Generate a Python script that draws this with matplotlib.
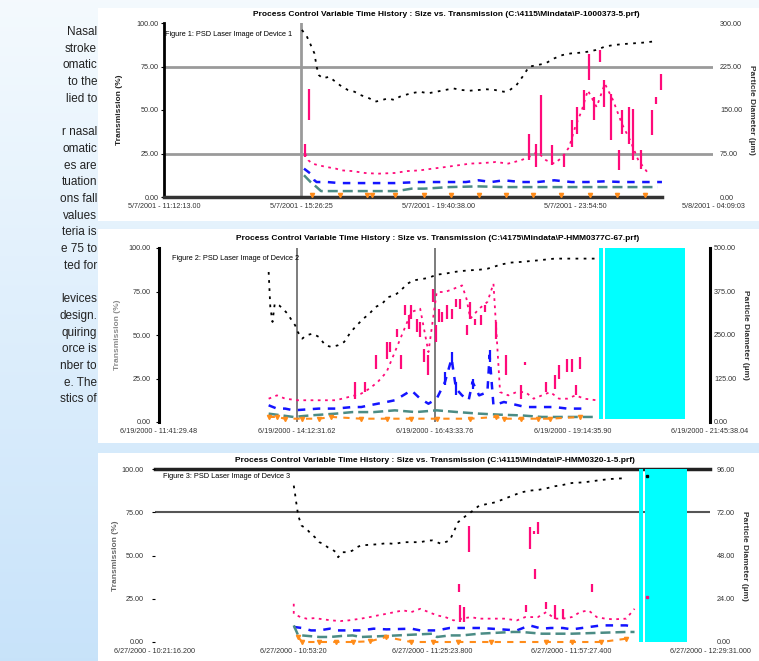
"""
"""
# ====================================================== Imports ===================================================== #

import matplotlib
matplotlib.use("Agg")
import matplotlib.pyplot as plt
import numpy as np
from matplotlib.patches import Rectangle

plt.rcParams['font.family'] = ['Liberation Sans', 'DejaVu Sans']

# ===================================================== Variables ==================================================== #

W, H = 759, 661

side_text = ["Nasal", "stroke", "omatic", "to the", "lied to", "",
             "r nasal", "omatic", "es are", "tuation", "ons fall", "values", "teria is", "e 75 to", "ted for", "",
             "levices", "design.", "quiring", "orce is", "nber to", "e. The", "stics of"]

tick_pct = [0, 25, 50, 75, 100]
left_labels = ['0.00', '25.00', '50.00', '75.00', '100.00']

# ---- figure 1
p1_title = 'Process Control Variable Time History : Size vs. Transmission (C:\\4115\\Mindata\\P-1000373-5.prf)'
p1_caption = 'Figure 1: PSD Laser Image of Device 1'
p1_xlabels = ['5/7/2001 - 11:12:13.00', '5/7/2001 - 15:26:25', '5/7/2001 - 19:40:38.00',
              '5/7/2001 - 23:54:50', '5/8/2001 - 04:09:03']
p1_right = ['0.00', '75.00', '150.00', '225.00', '300.00']

p1_size_x = [25.1, 25.9, 26.6, 27.4, 27.8, 28.2, 28.9, 30.1, 31.2, 32.4, 33.5, 34.7, 35.8, 37.4, 38.5, 39.7, 40.8,
             42.0, 42.9, 43.9, 45.0, 46.6, 48.1, 49.6, 51.2, 52.7, 54.2, 55.7, 57.3, 58.8, 60.3, 61.9, 63.0, 64.2,
             65.3, 66.5, 68.0, 69.5, 71.1, 72.6, 74.1, 75.7, 77.2, 78.7, 80.3, 81.8, 83.7, 87.2, 89.8]
p1_size_y = [96.0, 93.1, 88.3, 82.5, 74.9, 70.1, 68.2, 69.1, 66.3, 63.4, 61.5, 60.5, 58.6, 56.7, 54.8, 55.7, 56.7,
             55.7, 57.6, 58.6, 59.6, 60.5, 59.6, 60.5, 61.5, 62.4, 61.5, 61.1, 61.5, 61.9, 61.5, 60.5, 61.5, 64.3,
             69.1, 74.9, 75.8, 76.8, 79.7, 81.6, 82.5, 82.9, 83.5, 84.5, 86.4, 87.3, 87.9, 88.7, 89.6]

p1_trans_x = [25.7, 26.3, 27.0, 28.2, 29.7, 31.3, 32.4, 34.3, 36.6, 38.9, 42.0, 44.3, 46.6, 48.9, 51.2, 53.5, 55.8,
              58.1, 60.4, 62.7, 65.0, 66.5, 68.0, 69.6, 71.1, 72.6, 73.8, 74.9, 76.1, 77.2, 78.8, 80.3, 81.8, 83.4,
              84.9, 86.4, 88.0, 88.7]
p1_trans_y = [24.9, 21.1, 19.2, 18.2, 17.2, 16.3, 15.3, 14.9, 13.8, 13.4, 13.8, 14.9, 15.3, 16.3, 17.2, 18.2, 19.2,
              19.5, 20.1, 19.2, 21.1, 23.0, 25.9, 21.1, 19.2, 23.0, 28.7, 40.2, 49.8, 61.3, 51.7, 65.1, 55.6, 42.1,
              32.6, 21.1, 14.4, 13.4]
p1_spike_x = [25.7, 26.4, 66.5, 67.7, 68.7, 70.7, 72.8, 74.3, 75.3, 76.5, 77.5, 78.4, 79.4, 80.1, 81.5, 82.8, 83.5,
              84.7, 85.5, 86.8, 88.9, 89.7, 90.5]
p1_spike_lo = [23.0, 44.1, 21.1, 17.2, 24.9, 18.2, 17.2, 28.7, 36.4, 49.8, 67.0, 44.1, 77.6, 51.7, 32.6, 15.3, 36.4,
               30.7, 21.1, 16.3, 35.4, 53.6, 61.3]
p1_spike_hi = [30.6, 62.3, 36.4, 30.7, 58.4, 29.7, 24.9, 44.1, 51.7, 61.3, 82.4, 57.5, 84.3, 67.0, 59.4, 26.8, 49.8,
               51.7, 50.8, 26.8, 49.8, 57.5, 70.9]

p1_blue_x = [25.5, 26.7, 27.4, 27.8, 29.7, 32.0, 34.3, 37.4, 42.0, 46.6, 49.7, 52.0, 55.0, 57.3, 59.6, 61.9, 65.0,
             68.0, 71.1, 74.2, 77.2, 80.3, 83.4, 86.4, 90.7]
p1_blue_y = [16.3, 13.4, 9.6, 8.6, 8.6, 8.0, 8.0, 8.0, 8.0, 8.6, 8.6, 8.6, 8.6, 9.6, 8.6, 9.6, 8.6, 8.6, 9.6, 8.6,
             8.6, 9.0, 8.6, 8.6, 8.6]
p1_teal_x = [25.5, 26.7, 27.8, 28.6, 31.3, 34.3, 37.4, 40.5, 42.4, 45.1, 47.4, 52.0, 57.3, 61.9, 67.3, 72.6, 76.5,
             80.3, 83.4, 88.0, 89.9]
p1_teal_y = [12.5, 8.6, 5.7, 3.4, 3.4, 3.4, 3.4, 3.4, 3.4, 4.8, 4.8, 5.7, 6.1, 5.7, 5.7, 5.7, 5.7, 5.7, 5.7, 5.7, 5.7]
p1_orange_x = [27.0, 32.0, 37.0, 37.8, 42.0, 47.4, 52.3, 57.3, 62.3, 67.3, 72.3, 77.6, 82.6, 87.6]
p1_orange_y = [1.0] * 14

# ---- figure 2
p2_title = 'Process Control Variable Time History : Size vs. Transmission (C:\\4175\\Mindata\\P-HMM0377C-67.prf)'
p2_caption = 'Figure 2: PSD Laser Image of Device 2'
p2_xlabels = ['6/19/2000 - 11:41:29.48', '6/19/2000 - 14:12:31.62', '6/19/2000 - 16:43:33.76',
              '6/19/2000 - 19:14:35.90', '6/19/2000 - 21:45:38.04']
p2_right = ['0.00', '125.00', '250.00', '375.00', '500.00']
p2_mask_start = [79.9, 80.9]
p2_mask_end = [80.6, 95.5]

p2_size_x = [19.9, 20.2, 20.6, 21.0, 21.8, 22.5, 23.3, 24.1, 24.7, 25.2, 26.0, 26.7, 27.9, 29.0, 30.2, 31.3, 32.5,
             33.6, 34.8, 35.9, 37.1, 38.2, 39.3, 40.5, 41.6, 42.8, 43.9, 45.1, 46.2, 47.4, 48.9, 50.4, 51.9, 53.5,
             55.0, 56.5, 58.1, 59.6, 60.7, 61.9, 63.8, 65.7, 68.8, 71.8, 77.2, 79.4]
p2_size_y = [86.2, 66.1, 57.5, 68.0, 67.0, 65.1, 62.3, 58.4, 55.6, 51.7, 47.9, 49.8, 50.8, 48.9, 44.1, 43.1, 44.1,
             46.0, 51.7, 55.6, 59.4, 62.3, 66.1, 68.0, 71.8, 72.8, 75.7, 79.5, 81.4, 82.0, 82.8, 84.7, 85.2, 86.2,
             86.8, 87.2, 87.5, 88.1, 89.1, 90.4, 91.6, 92.0, 92.9, 93.9, 93.9, 93.9]

p2_trans_x = [19.9, 21.4, 22.9, 25.2, 27.5, 29.8, 32.1, 35.1, 36.7, 38.2, 39.7, 41.3, 42.8, 44.3, 45.8, 47.4, 48.9,
              50.4, 51.9, 53.5, 55.0, 55.8, 56.5, 58.1, 59.6, 60.7, 61.9, 63.4, 64.9, 66.5, 68.0, 69.5, 71.0, 72.6,
              74.1, 75.6, 77.2, 79.4]
p2_trans_y = [13.4, 15.3, 13.4, 12.5, 12.5, 12.5, 12.5, 14.9, 16.3, 19.2, 23.0, 28.7, 40.2, 51.7, 63.2, 65.1, 40.2,
              74.7, 74.7, 76.6, 78.5, 70.9, 59.4, 65.1, 69.0, 79.5, 17.2, 15.3, 17.2, 17.2, 13.4, 15.3, 17.2, 13.4,
              13.4, 15.3, 13.4, 12.5]
p2_spike_x = [35.5, 37.4, 39.3, 41.3, 42.0, 43.2, 43.9, 44.7, 45.3, 45.8, 46.8, 47.4, 48.1, 48.9, 49.7, 50.2, 50.8,
              51.3, 52.3, 53.1, 53.9, 54.6, 55.9, 56.5, 57.3, 58.4, 59.2, 61.1, 63.0, 65.7, 66.5, 70.3, 71.8, 72.6,
              74.1, 74.9, 75.6, 76.4]
p2_spike_hi = [23.0, 23.0, 38.3, 46.0, 46.0, 53.6, 38.3, 67.0, 61.3, 67.0, 59.4, 57.5, 42.1, 38.3, 76.6, 55.6, 65.1,
               63.2, 67.0, 65.1, 70.9, 70.9, 55.6, 69.0, 59.4, 61.3, 67.0, 57.5, 38.3, 21.1, 34.5, 23.0, 26.8, 32.6,
               36.4, 36.4, 21.1, 37.4]
p2_spike_lo = [13.4, 17.2, 30.7, 36.4, 40.2, 48.9, 30.7, 61.3, 53.6, 59.4, 51.7, 48.9, 34.5, 26.8, 69.0, 46.0, 57.5,
               57.5, 59.4, 59.4, 66.1, 65.1, 49.8, 59.4, 55.6, 55.6, 63.2, 47.9, 26.8, 13.4, 32.6, 17.2, 19.2, 24.9,
               28.7, 28.7, 15.3, 30.7]

p2_blue_x = [19.9, 21.4, 22.9, 24.4, 29.0, 32.1, 35.1, 36.7, 38.2, 41.3, 42.8, 44.3, 45.8, 47.4, 48.9, 50.4, 51.9,
             53.1, 53.9, 55.0, 56.2, 56.9, 58.1, 59.6, 60.0, 60.7, 62.6, 66.5, 71.8, 74.1, 77.2]
p2_blue_y = [9.6, 7.7, 7.7, 6.7, 7.7, 7.7, 8.6, 8.6, 9.6, 11.5, 12.5, 15.3, 18.2, 13.4, 10.5, 13.4, 23.0, 36.4, 19.2,
             15.3, 12.5, 23.0, 15.3, 17.2, 38.3, 9.6, 11.5, 8.6, 8.6, 7.7, 7.7]
p2_bspike_x = [51.9, 53.1, 53.9, 56.9, 60.0]
p2_bspike_lo = [21.1, 32.6, 15.3, 19.2, 34.5]
p2_bspike_hi = [28.7, 40.2, 23.0, 24.9, 41.2]
p2_teal_x = [19.9, 24.4, 27.5, 32.1, 35.1, 39.0, 42.8, 46.6, 50.4, 54.2, 58.1, 61.9, 65.7, 69.5, 73.3, 77.2, 79.4]
p2_teal_y = [4.8, 2.9, 3.8, 4.8, 5.7, 5.7, 6.7, 5.7, 6.7, 5.7, 4.8, 4.2, 3.8, 2.9, 2.9, 2.9, 2.9]
p2_orange_x = [19.9, 21.4, 22.9, 26.0, 29.0, 31.3, 36.7, 41.3, 45.8, 50.4, 56.5, 61.1, 62.6, 65.7, 68.8, 71.0, 76.4]
p2_orange_y = [2.9, 2.9, 1.9, 1.9, 1.9, 2.9, 1.9, 1.9, 1.9, 1.9, 1.9, 2.9, 1.9, 1.9, 1.9, 1.9, 2.9]

# ---- figure 3
p3_title = 'Process Control Variable Time History : Size vs. Transmission (C:\\4115\\Mindata\\P-HMM0320-1-5.prf)'
p3_caption = 'Figure 3: PSD Laser Image of Device 3'
p3_xlabels = ['6/27/2000 - 10:21:16.200', '6/27/2000 - 10:53:20', '6/27/2000 - 11:25:23.800',
              '6/27/2000 - 11:57:27.400', '6/27/2000 - 12:29:31.000']
p3_right = ['0.00', '24.00', '48.00', '72.00', '96.00']
p3_mask_start = [87.2, 88.3]
p3_mask_end = [87.9, 95.9]

p3_size_x = [25.0, 25.2, 25.4, 25.8, 26.4, 27.3, 28.1, 28.8, 29.6, 30.3, 31.1, 31.8, 32.6, 33.0, 33.7, 34.9, 35.6,
             36.4, 37.1, 38.7, 40.2, 41.7, 43.2, 44.7, 46.2, 47.8, 49.3, 50.0, 50.8, 51.6, 52.3, 53.1, 53.8, 54.6,
             55.3, 56.1, 56.9, 58.4, 59.9, 61.4, 62.9, 64.4, 66.0, 67.5, 69.0, 70.5, 72.0, 73.5, 75.1, 77.3, 79.6,
             81.9, 84.2]
p3_size_y = [90.4, 86.5, 81.7, 73.1, 67.3, 65.4, 62.5, 60.6, 57.7, 56.7, 54.8, 53.8, 51.9, 49.0, 51.9, 51.9, 52.9,
             54.8, 55.8, 56.2, 56.5, 57.1, 56.7, 57.7, 57.7, 57.7, 58.7, 58.7, 57.7, 56.7, 57.7, 58.7, 63.5, 69.2,
             71.2, 73.1, 75.0, 78.8, 79.8, 80.8, 82.7, 84.6, 86.5, 87.5, 87.9, 88.8, 90.0, 90.8, 91.9, 92.3, 93.3,
             94.2, 94.6]
p3_late_x = [88.7]
p3_late_size = [96.2]
p3_late_trans = [26.0]

p3_trans_x = [25.0, 25.0, 26.2, 27.3, 28.8, 30.3, 31.8, 33.4, 34.9, 37.1, 38.7, 40.2, 41.7, 43.2, 44.7, 46.2, 47.8,
              49.3, 50.8, 52.3, 53.8, 55.3, 56.9, 58.4, 59.9, 61.4, 62.9, 65.2, 66.7, 69.0, 70.5, 72.0, 73.5, 75.1,
              76.6, 78.1, 79.6, 81.1, 82.6, 84.9, 86.4]
p3_trans_y = [22.1, 16.3, 14.4, 13.5, 13.8, 13.1, 12.5, 12.1, 12.5, 13.5, 14.4, 15.4, 16.3, 17.3, 18.3, 17.3, 19.2,
              17.3, 15.4, 14.4, 12.5, 13.5, 14.4, 13.5, 13.5, 13.5, 13.5, 12.5, 14.4, 14.4, 17.3, 13.5, 13.5, 14.4,
              17.3, 18.3, 14.4, 13.5, 13.1, 13.5, 19.2]
p3_spike_x = [56.5, 54.7, 67.5, 69.0, 68.2, 68.5, 70.4, 78.8, 55.0, 55.7, 66.9, 72.0, 73.5]
p3_spike_lo = [51.9, 28.8, 53.8, 62.5, 62.5, 36.5, 19.2, 28.8, 11.5, 11.5, 17.3, 13.5, 13.5]
p3_spike_hi = [67.3, 33.7, 66.3, 69.2, 64.4, 42.3, 23.1, 33.7, 21.2, 20.2, 21.2, 21.2, 19.2]

p3_blue_x = [25.0, 26.5, 28.1, 29.6, 31.5, 32.6, 35.6, 37.1, 39.4, 41.7, 46.2, 47.8, 50.8, 53.1, 55.3, 56.9, 58.4,
             60.6, 65.2, 67.5, 69.7, 71.3, 73.5, 75.1, 80.4, 84.9, 86.4]
p3_blue_y = [8.7, 8.1, 6.7, 6.7, 7.7, 6.7, 6.7, 6.7, 7.7, 7.3, 7.7, 6.7, 6.7, 8.1, 8.1, 8.1, 8.1, 7.7, 6.7, 9.6, 7.7,
             8.1, 8.1, 7.3, 9.6, 9.6, 8.7]
p3_teal_x = [25.0, 25.8, 26.5, 29.6, 31.5, 33.7, 35.6, 37.1, 41.7, 50.0, 50.8, 53.1, 55.3, 58.4, 64.4, 66.0, 69.7,
             72.0, 75.1, 84.9, 86.4]
p3_teal_y = [9.6, 3.8, 3.8, 2.9, 2.9, 3.5, 3.8, 2.9, 3.5, 4.8, 2.9, 3.8, 3.8, 4.8, 5.8, 5.8, 4.8, 4.8, 4.8, 5.8, 5.8]
p3_orange_x = [25.8, 26.5, 29.6, 32.6, 35.6, 38.7, 41.7, 46.2, 50.0, 54.6, 60.6, 70.5, 75.1, 80.4, 84.9]
p3_orange_y = [2.9, 0.0, 0.0, 0.0, 0.0, 0.4, 2.9, 0.0, 0.0, 0.0, 0.0, 0.0, 0.0, 0.0, 1.9]

PINK = '#ff0a7a'
BLUE = '#1414ff'
TEAL = '#4b8c85'
ORANGE = '#ff8c1a'
CYAN = '#00ffff'


# ===================================================== Functions ==================================================== #


def px_axes(fig, x0, y0, x1, y1):
    return fig.add_axes([x0 / W, 1 - y1 / H, (x1 - x0) / W, (y1 - y0) / H])


def setup_axes(ax, xlabels, right_labels, label_gap, left_color, pad_left, pad_right):
    ax.set_xlim(0, 100)
    ax.set_ylim(0, 100)
    ax.set_facecolor('none')
    ax.set_xticks(tick_pct)
    ax.set_xticklabels(xlabels, fontsize=5.2, color='#333333')
    ax.set_yticks(tick_pct)
    ax.set_yticklabels(left_labels, fontsize=5.2, color='#333333')
    ax.tick_params(axis='x', length=0, pad=4)
    ax.tick_params(axis='y', length=2, width=0.8, pad=pad_left)
    ax.set_ylabel('Transmission (%)', fontsize=6, fontweight='bold', color=left_color)
    ax.yaxis.set_label_coords(-label_gap, 0.5)
    for s in ax.spines.values():
        s.set_visible(False)
    tw = ax.twinx()
    tw.set_ylim(0, 100)
    tw.set_yticks(tick_pct)
    tw.set_yticklabels(right_labels, fontsize=5.2, color='#333333')
    tw.tick_params(axis='y', length=0, pad=pad_right)
    tw.set_ylabel('Particle Diameter (\u00b5m)', fontsize=6, fontweight='bold', color='#333333',
                  rotation=270, labelpad=9)
    for s in tw.spines.values():
        s.set_visible(False)
    return tw


def draw_series(ax, s):
    ax.plot(s['size_x'], s['size_y'], color='black', lw=1.3, ls=(0, (1.5, 3)), zorder=4)
    ax.plot(s['trans_x'], s['trans_y'], color=PINK, lw=1.3, ls=(0, (1.5, 2.5)), zorder=3)
    ax.vlines(s['spike_x'], s['spike_lo'], s['spike_hi'], color=PINK, lw=1.6, zorder=3)
    ax.plot(s['blue_x'], s['blue_y'], color=BLUE, lw=1.8, ls=(0, (3, 3)), zorder=3)
    ax.plot(s['teal_x'], s['teal_y'], color=TEAL, lw=1.8, ls=(0, (4, 2)), zorder=3)
    ax.plot(s['orange_x'], s['orange_y'], color=ORANGE, lw=1.5, ls=s['orange_ls'], marker='v', ms=3,
            clip_on=False, zorder=3)


# ======================================================= Main ======================================================= #


def main():
    fig = plt.figure(figsize=(W / 100, H / 100), dpi=100)

    # page background
    bg = fig.add_axes([0, 0, 1, 1], zorder=-3)
    top = np.array([0.957, 0.980, 0.996])
    bot = np.array([0.784, 0.890, 0.980])
    t = np.linspace(0, 1, 256)[:, None]
    grad = top[None, :] * (1 - t) + bot[None, :] * t
    bg.imshow(grad[:, None, :], aspect='auto', extent=[0, 1, 0, 1])
    bg.set_xlim(0, 1)
    bg.set_ylim(0, 1)
    bg.axis('off')

    # cut off text column
    for i, line in enumerate(side_text):
        fig.text(97 / W, 1 - (32 + i * 16.7) / H, line, ha='right', va='center', fontsize=8.5, color='#222222')

    # white image panels
    for y0, y1 in [(8, 221), (229, 443), (453, 661)]:
        fig.patches.append(Rectangle((98 / W, 1 - y1 / H), 1 - 98 / W, (y1 - y0) / H,
                                     transform=fig.transFigure, facecolor='white', edgecolor='none', zorder=-2))

    # ---------------- figure 1
    ax1 = px_axes(fig, 164, 23, 713, 197)
    setup_axes(ax1, p1_xlabels, p1_right, 41 / 549, '#222222', 2, 5)
    ax1.spines['left'].set_visible(True)
    ax1.spines['left'].set_linewidth(2)
    ax1.spines['bottom'].set_visible(True)
    ax1.spines['bottom'].set_linewidth(2.5)
    ax1.spines['bottom'].set_color('#333333')
    ax1.spines['bottom'].set_bounds(0, 90.8)
    for g in (25, 75):
        ax1.axhline(g, color='#9a9a9a', lw=2, zorder=1)
    ax1.axvline(25, color='#9a9a9a', lw=2, zorder=1)
    draw_series(ax1, dict(size_x=p1_size_x, size_y=p1_size_y, trans_x=p1_trans_x, trans_y=p1_trans_y,
                          spike_x=p1_spike_x, spike_lo=p1_spike_lo, spike_hi=p1_spike_hi,
                          blue_x=p1_blue_x, blue_y=p1_blue_y, teal_x=p1_teal_x, teal_y=p1_teal_y,
                          orange_x=p1_orange_x, orange_y=p1_orange_y, orange_ls='none'))
    fig.text(446 / W, 1 - 15 / H, p1_title, ha='center', va='center', fontsize=6, fontweight='bold')
    fig.text(165 / W, 1 - 34 / H, p1_caption, ha='left', va='center', fontsize=5.3)

    # ---------------- figure 2
    ax2 = px_axes(fig, 159, 248, 710, 422)
    tw2 = setup_axes(ax2, p2_xlabels, p2_right, 38 / 551, '#8a8a8a', 4, 3)
    ax2.spines['left'].set_visible(True)
    ax2.spines['left'].set_linewidth(2.2)
    tw2.spines['right'].set_visible(True)
    tw2.spines['right'].set_linewidth(2.2)
    for v in (25, 50):
        ax2.axvline(v, color='#666666', lw=1.2, zorder=1)
    draw_series(ax2, dict(size_x=p2_size_x, size_y=p2_size_y, trans_x=p2_trans_x, trans_y=p2_trans_y,
                          spike_x=p2_spike_x, spike_lo=p2_spike_lo, spike_hi=p2_spike_hi,
                          blue_x=p2_blue_x, blue_y=p2_blue_y, teal_x=p2_teal_x, teal_y=p2_teal_y,
                          orange_x=p2_orange_x, orange_y=p2_orange_y, orange_ls=(0, (3, 3))))
    ax2.vlines(p2_bspike_x, p2_bspike_lo, p2_bspike_hi, color=BLUE, lw=1.6, zorder=3)
    for a, b in zip(p2_mask_start, p2_mask_end):
        ax2.axvspan(a, b, ymin=0.02, ymax=1.0, color=CYAN, lw=0, zorder=5)
    fig.text(438 / W, 1 - 238 / H, p2_title, ha='center', va='center', fontsize=6, fontweight='bold')
    fig.text(172 / W, 1 - 258 / H, p2_caption, ha='left', va='center', fontsize=5.3)

    # ---------------- figure 3
    ax3 = px_axes(fig, 155, 469, 710, 642)
    setup_axes(ax3, p3_xlabels, p3_right, 36 / 555, '#666666', 6, 5)
    ax3.axhline(100, color='#222222', lw=2.5, zorder=1, clip_on=False)
    ax3.axhline(75, color='#555555', lw=1.5, zorder=1)
    draw_series(ax3, dict(size_x=p3_size_x, size_y=p3_size_y, trans_x=p3_trans_x, trans_y=p3_trans_y,
                          spike_x=p3_spike_x, spike_lo=p3_spike_lo, spike_hi=p3_spike_hi,
                          blue_x=p3_blue_x, blue_y=p3_blue_y, teal_x=p3_teal_x, teal_y=p3_teal_y,
                          orange_x=p3_orange_x, orange_y=p3_orange_y, orange_ls=(0, (3, 3))))
    for a, b in zip(p3_mask_start, p3_mask_end):
        ax3.axvspan(a, b, ymin=0.0, ymax=1.0, color=CYAN, lw=0, zorder=5)
    ax3.plot(p3_late_x, p3_late_size, 's', color='black', ms=1.5, zorder=6)
    ax3.plot(p3_late_x, p3_late_trans, 's', color=PINK, ms=1.5, zorder=6)
    fig.text(435 / W, 1 - 460 / H, p3_title, ha='center', va='center', fontsize=6, fontweight='bold')
    fig.text(163 / W, 1 - 477 / H, p3_caption, ha='left', va='center', fontsize=5.3)

    fig.savefig('out.png', dpi=100)


# ==================================================================================================================== #


if __name__ == '__main__':
    main()
